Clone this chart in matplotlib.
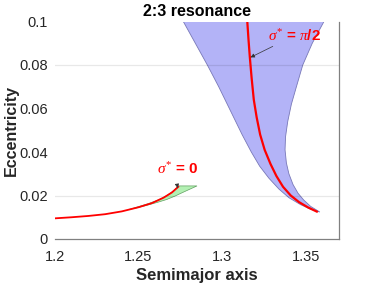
import matplotlib
matplotlib.use("Agg")
import matplotlib.pyplot as plt

plt.rcParams['font.family'] = ['Liberation Sans', 'DejaVu Sans']
plt.rcParams['mathtext.fontset'] = 'custom'
plt.rcParams['mathtext.it'] = 'Liberation Serif:italic'
plt.rcParams['mathtext.rm'] = 'Liberation Serif'

# Blue libration region (sigma* = pi/2), left edge (top -> tip) then right edge (tip -> top)
blue_left_a = [1.2768, 1.2840, 1.2912, 1.2980, 1.3050, 1.3120, 1.3175, 1.3225, 1.3280,
               1.3340, 1.3400, 1.3470, 1.3530, 1.3585]
blue_left_e = [0.100, 0.090, 0.080, 0.070, 0.059, 0.048, 0.040, 0.0335, 0.0280,
               0.0230, 0.0190, 0.0158, 0.0137, 0.0124]
blue_right_a = [1.3585, 1.3530, 1.3489, 1.3455, 1.3425, 1.3400, 1.3385, 1.3377, 1.3380,
                1.3393, 1.3415, 1.3445, 1.3483, 1.3540, 1.3610]
blue_right_e = [0.0124, 0.0150, 0.0179, 0.0210, 0.0250, 0.0300, 0.0350, 0.0410, 0.0470,
                0.0540, 0.0620, 0.0700, 0.0800, 0.0900, 0.100]

# Red centre curve sigma* = pi/2
red2_a = [1.3151, 1.3158, 1.3166, 1.3177, 1.3190, 1.3207, 1.3228, 1.3255, 1.3290,
          1.3325, 1.3365, 1.3411, 1.3460, 1.3515, 1.3567]
red2_e = [0.100, 0.092, 0.0838, 0.074, 0.064, 0.056, 0.048, 0.041, 0.0345,
          0.0290, 0.0240, 0.0200, 0.0170, 0.0145, 0.0126]

# Green region (sigma* = 0)
green_a = [1.2850, 1.2810, 1.2770, 1.2720, 1.2670, 1.2620, 1.2560, 1.2500, 1.2440,
           1.2500, 1.2560, 1.2620, 1.2670, 1.2710, 1.2738]
green_e = [0.0244, 0.0230, 0.0216, 0.0198, 0.0182, 0.0170, 0.0157, 0.0145, 0.0135,
           0.0149, 0.0163, 0.0180, 0.0200, 0.0222, 0.0244]

# Red centre curve sigma* = 0
red0_a = [1.200, 1.210, 1.220, 1.230, 1.240, 1.250, 1.258, 1.265, 1.270, 1.2738]
red0_e = [0.0095, 0.0100, 0.0106, 0.0114, 0.0127, 0.0146, 0.0165, 0.0190, 0.0214, 0.0240]

grid_levels = [0.02, 0.08]
xticks = [1.2, 1.25, 1.3, 1.35]
xticklabels = ['1.2', '1.25', '1.3', '1.35']
yticks = [0, 0.02, 0.04, 0.06, 0.08, 0.1]
yticklabels = ['0', '0.02', '0.04', '0.06', '0.08', '0.1']

fig = plt.figure(figsize=(3.74, 2.83), dpi=100)
ax = fig.add_axes([55/374, 1-239/283, (339-55)/374, (239-21.5)/283])

ax.fill(blue_left_a + blue_right_a, blue_left_e + blue_right_e,
        facecolor='#b3b3f7', edgecolor='#7878b8', linewidth=0.6, zorder=1)
ax.fill(green_a, green_e, facecolor='#b3f0b3', edgecolor='#60a060', linewidth=0.5, zorder=1)

for g in grid_levels:
    ax.axhline(g, color='#000000', alpha=0.09, linewidth=0.9, zorder=2)

ax.plot(red2_a, red2_e, color='#ff0000', linewidth=1.6, zorder=3, solid_joinstyle='round')
ax.plot(red0_a, red0_e, color='#ff0000', linewidth=1.3, zorder=3, solid_joinstyle='round')

ax.annotate(r'$\sigma^{*}$ = $\pi$/2', xy=(1.3170, 0.0835), xytext=(1.3275, 0.0935),
            color='#ff0000', fontsize=11, fontweight='bold', va='center', ha='left',
            arrowprops=dict(arrowstyle='-|>', color='#333333', lw=0.5,
                            mutation_scale=6, shrinkA=0, shrinkB=0))
ax.annotate(r'$\sigma^{*}$ = 0', xy=(1.2734, 0.0234), xytext=(1.2612, 0.0322),
            color='#ff0000', fontsize=11, fontweight='bold', va='center', ha='left',
            arrowprops=dict(arrowstyle='-|>', color='#333333', lw=0.5,
                            mutation_scale=6, shrinkA=6, shrinkB=0,
                            relpos=(0.45, 0.0)))

ax.set_xlim(1.2, 1.37)
ax.set_ylim(0, 0.1)
ax.set_xticks(xticks)
ax.set_xticklabels(xticklabels)
ax.set_yticks(yticks)
ax.set_yticklabels(yticklabels)
ax.set_yticks(grid_levels, minor=True)
ax.tick_params(axis='both', which='major', length=0, labelsize=10.5, colors='#262626')
ax.tick_params(axis='x', which='major', pad=8)
ax.tick_params(axis='y', which='major', pad=5)
ax.tick_params(axis='y', which='minor', left=True, right=True, length=2.5,
               direction='in', color='#a0a0a0', width=0.8)
ax.tick_params(axis='x', which='minor', bottom=False)

for s in ['left', 'top']:
    ax.spines[s].set_visible(False)
for s in ['bottom', 'right']:
    ax.spines[s].set_color('#808080')
    ax.spines[s].set_linewidth(0.9)

ax.set_title('2:3 resonance', fontsize=11.5, fontweight='bold', color='#000000', pad=4)
ax.set_xlabel('Semimajor axis', fontsize=12, fontweight='bold', color='#262626', labelpad=3)
ax.set_ylabel('Eccentricity', fontsize=11.5, fontweight='bold', color='#262626')
ax.yaxis.set_label_coords((19 - 55) / 284, 0.5)

fig.savefig('out.png', dpi=100)
